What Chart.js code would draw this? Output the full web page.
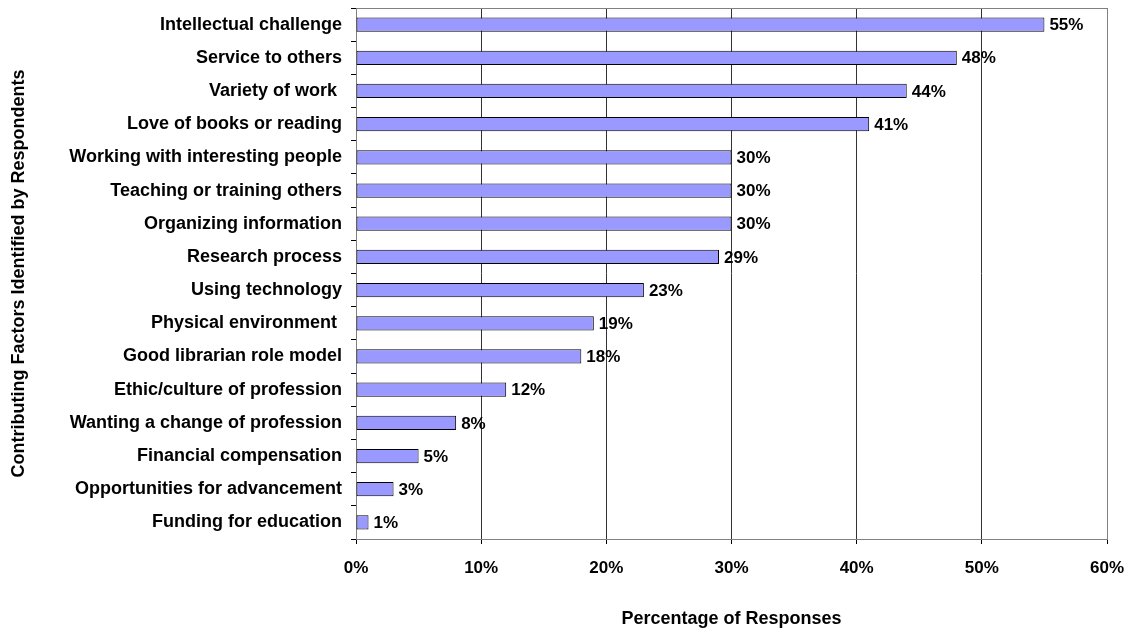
<!DOCTYPE html>
<html>
<head>
<meta charset="utf-8">
<script src="https://cdn.jsdelivr.net/npm/chart.js@4/dist/chart.umd.min.js"></script>
<style>
  html, body { margin: 0; padding: 0; background: #fff; }
  #wrap { width: 1130px; height: 630px; }
</style>
</head>
<body>
<div id="wrap"><canvas id="chart" width="1130" height="630"></canvas></div>
<script>
var factors = [
  'Intellectual challenge',
  'Service to others',
  'Variety of work ',
  'Love of books or reading',
  'Working with interesting people',
  'Teaching or training others',
  'Organizing information',
  'Research process',
  'Using technology',
  'Physical environment ',
  'Good librarian role model',
  'Ethic/culture of profession',
  'Wanting a change of profession',
  'Financial compensation',
  'Opportunities for advancement',
  'Funding for education'
];
var responses = [55, 48, 44, 41, 30, 30, 30, 29, 23, 19, 18, 12, 8, 5, 3, 1];
var xTicks = [0, 10, 20, 30, 40, 50, 60];

var FONT = '"Liberation Sans", Arial, sans-serif';

// gray frame round the plot area
var frame = {
  id: 'frame',
  beforeDatasetsDraw: function(chart) {
    var a = chart.chartArea, c = chart.ctx;
    c.save();
    c.strokeStyle = '#808080';
    c.lineWidth = 1;
    c.strokeRect(Math.round(a.left) + 0.5, Math.round(a.top) + 0.5,
      Math.round(a.right - a.left), Math.round(a.bottom - a.top));
    c.restore();
  }
};

// value labels at the end of each bar
var valueLabels = {
  id: 'valueLabels',
  afterDatasetsDraw: function(chart) {
    var c = chart.ctx;
    var meta = chart.getDatasetMeta(0);
    c.save();
    c.font = 'bold 17px ' + FONT;
    c.fillStyle = '#000';
    c.textAlign = 'left';
    c.textBaseline = 'middle';
    meta.data.forEach(function(bar, i) {
      c.fillText(responses[i] + '%', bar.x + 5, bar.y + 1);
    });
    c.restore();
  }
};

new Chart(document.getElementById('chart').getContext('2d'), {
  type: 'bar',
  data: {
    labels: factors,
    datasets: [{
      data: responses,
      backgroundColor: '#9999ff',
      borderColor: '#000',
      borderWidth: 1,
      borderSkipped: false,
      categoryPercentage: 1,
      barPercentage: 0.43
    }]
  },
  options: {
    indexAxis: 'y',
    responsive: false,
    animation: false,
    layout: { padding: { left: 0, right: 23, top: 8, bottom: 0 } },
    plugins: { legend: { display: false }, tooltip: { enabled: false } },
    scales: {
      x: {
        min: 0,
        max: 60,
        afterBuildTicks: function(scale) {
          scale.ticks = xTicks.map(function(v) { return { value: v }; });
        },
        afterFit: function(scale) {
          scale.height = 91;
          scale.paddingLeft = 0;
          scale.paddingRight = 0;
        },
        border: { display: true, color: '#000', width: 1 },
        grid: {
          color: function(ctx) { return ctx.index === 6 ? '#808080' : '#333'; },
          tickColor: '#000',
          tickLength: 5
        },
        ticks: {
          padding: 14,
          color: '#000',
          font: { family: FONT, size: 17, weight: 'bold' },
          callback: function(v) { return v + '%'; }
        },
        title: {
          display: true,
          text: 'Percentage of Responses',
          color: '#000',
          font: { family: FONT, size: 18, weight: 'bold' },
          padding: { top: 0, bottom: 0 }
        }
      },
      y: {
        afterFit: function(scale) {
          scale.width = 356;
          scale.paddingTop = 0;
          scale.paddingBottom = 0;
        },
        border: { display: true, color: '#000', width: 1 },
        grid: {
          drawOnChartArea: false,
          drawTicks: true,
          tickLength: 5,
          tickColor: '#000'
        },
        ticks: {
          padding: 9,
          color: '#000',
          autoSkip: false,
          font: { family: FONT, size: 18, weight: 'bold' }
        },
        title: {
          display: true,
          text: 'Contributing Factors Identified by Respondents',
          color: '#000',
          font: { family: FONT, size: 18, weight: 'bold' },
          padding: { top: 8, bottom: 0 }
        }
      }
    }
  },
  plugins: [frame, valueLabels]
});
</script>
</body>
</html>
